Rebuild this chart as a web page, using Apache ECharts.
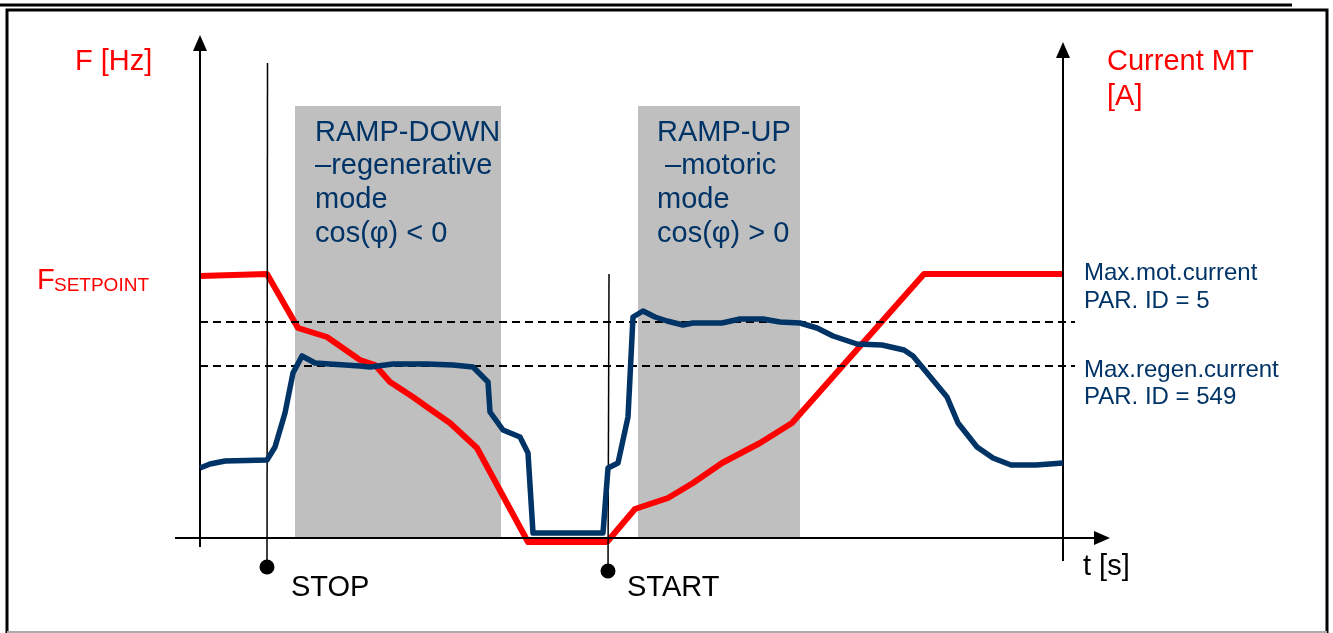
<!DOCTYPE html>
<html lang="en">
<head>
<meta charset="utf-8">
<title>Ramp-down / ramp-up</title>
<script src="https://cdn.jsdelivr.net/npm/echarts@6/dist/echarts.min.js"></script>
<style>
  html, body { margin: 0; padding: 0; background: #fff; }
  #chart { width: 1333px; height: 633px; }
</style>
</head>
<body>
<div id="chart"></div>

<script>
// time axis (arbitrary units) and values
var freqT = [0, 6.7, 9.8, 12.7, 16.0, 17.5, 19.0, 21.3, 22.7, 25.0, 27.7, 32.8, 40.7, 43.5, 46.8, 49.3, 52.2, 56.0, 59.2, 72.4, 86.3];
var freqV = [26.2, 26.4, 21.0, 20.1, 17.8, 17.3, 15.6, 14.1, 13.1, 11.5, 9.0, -0.4, -0.4, 2.9, 4.0, 5.5, 7.5, 9.5, 11.5, 26.4, 26.4];

var currT = [0, 1.0, 2.5, 6.7, 7.5, 8.5, 9.3, 10.2, 11.5, 16.0, 17.0, 19.3, 22.7, 25.3, 27.3, 28.8, 29.0, 30.3, 32.0, 32.8, 33.3,
             40.3, 40.8, 41.8, 42.8, 43.3, 44.3, 45.5, 46.7, 48.3, 49.3, 52.2, 54.0, 56.3, 58.0, 60.0, 61.7, 63.3, 65.7, 68.2,
             70.4, 71.3, 74.7, 75.8, 77.7, 79.3, 81.1, 83.6, 86.3];
var currV = [7.0, 7.4, 7.7, 7.8, 9.1, 12.5, 16.5, 18.2, 17.5, 17.2, 17.1, 17.4, 17.4, 17.3, 17.1, 15.6, 12.6, 10.8, 10.1, 8.5, 0.5,
             0.5, 7.0, 7.5, 12.1, 22.1, 22.7, 22.1, 21.7, 21.3, 21.5, 21.5, 21.9, 21.9, 21.6, 21.5, 21.0, 20.2, 19.4, 19.3,
             18.8, 18.2, 14.1, 11.5, 9.1, 8.0, 7.3, 7.3, 7.5];

var limitLevels = [21.6, 17.2];           // max motoric / max regenerative current
var eventT = { stop: 6.7, start: 40.8 };
var zones = [[9.5, 30.1], [43.8, 60.0]];  // ramp-down, ramp-up
var zoneTop = 43.2;

var RED = '#ff0000';
var BLUE = '#003366';
var FONT = "'Liberation Sans', Arial, sans-serif";

function pairs(xs, ys) {
  return xs.map(function (x, i) { return [x, ys[i]]; });
}

function seg(a, b) {
  return [{ coord: a }, { coord: b }];
}

function txt(x, y, text, size, color) {
  return {
    type: 'text', x: x, y: y, z: 100, silent: true,
    style: { text: text, fill: color, font: size + 'px ' + FONT, textVerticalAlign: 'middle' }
  };
}

var chart = echarts.init(document.getElementById('chart'));

var option = {
  animation: false,
  grid: { left: 0, right: 0, top: 0, bottom: 0, containLabel: false },
  xAxis: { type: 'value', min: -20, max: 113.3, show: false },
  yAxis: { type: 'value', min: -9.5, max: 53.8, show: false },
  graphic: [
    { type: 'line', silent: true, shape: { x1: 0, y1: 5, x2: 1292, y2: 5 }, style: { stroke: '#000', lineWidth: 3 } },
    { type: 'polyline', silent: true, shape: { points: [[7, 633], [7, 10], [1327, 10], [1327, 633]] },
      style: { stroke: '#000', lineWidth: 3, fill: null } },
    { type: 'line', silent: true, shape: { x1: 7, y1: 632, x2: 1327, y2: 632 }, style: { stroke: '#aaaaaa', lineWidth: 2 } },

    txt(75, 62, 'F [Hz]', 29, RED),
    txt(1107, 62, 'Current MT', 29, RED),
    txt(1107, 97, '[A]', 29, RED),
    txt(37, 281, 'F', 29, RED),
    txt(54, 286, 'SETPOINT', 19, RED),

    txt(315, 133, 'RAMP-DOWN', 29, BLUE),
    txt(315, 166, '\u2013regenerative', 29, BLUE),
    txt(315, 200, 'mode', 29, BLUE),
    txt(315, 234, 'cos(\u03c6) < 0', 29, BLUE),

    txt(657, 133, 'RAMP-UP', 29, BLUE),
    txt(657, 166, ' \u2013motoric', 29, BLUE),
    txt(657, 200, 'mode', 29, BLUE),
    txt(657, 234, 'cos(\u03c6) > 0', 29, BLUE),

    txt(1084, 273, 'Max.mot.current', 24, BLUE),
    txt(1084, 301, 'PAR. ID = 5', 24, BLUE),
    txt(1084, 370, 'Max.regen.current', 24, BLUE),
    txt(1084, 397, 'PAR. ID = 549', 24, BLUE),

    txt(291, 588, 'STOP', 29, '#000'),
    txt(627, 588, 'START', 29, '#000'),
    txt(1083, 567, 't [s]', 29, '#000')
  ],
  series: [
    {
      name: 'zones', type: 'line', data: [], z: 1, silent: true,
      markArea: {
        silent: true,
        itemStyle: { color: '#bfbfbf' },
        data: zones.map(function (z) { return [{ coord: [z[0], zoneTop] }, { coord: [z[1], 0] }]; })
      }
    },
    {
      name: 'limits', type: 'line', data: [], z: 2, silent: true,
      markLine: {
        silent: true, symbol: ['none', 'none'], label: { show: false },
        lineStyle: { color: '#000', type: [8, 5], width: 2 },
        data: limitLevels.map(function (v) { return seg([0, v], [87.5, v]); })
      }
    },
    {
      name: 'axes', type: 'line', data: [], z: 3, silent: true,
      markLine: {
        silent: true, label: { show: false },
        symbol: ['none', 'triangle'], symbolSize: [14, 16],
        lineStyle: { color: '#000', type: 'solid', width: 2 },
        data: [
          seg([-2.5, 0], [90.2, 0]),
          seg([0, -0.9], [0, 49.5]),
          seg([86.3, -2.3], [86.3, 48.8])
        ]
      }
    },
    {
      name: 'events', type: 'line', data: [], z: 3, silent: true,
      markLine: {
        silent: true, label: { show: false },
        symbol: ['circle', 'none'], symbolSize: [15, 16],
        lineStyle: { color: '#000', type: 'solid', width: 1.5 },
        itemStyle: { color: '#000' },
        data: [
          seg([eventT.stop, -2.9], [eventT.stop + 0.05, 47.5]),
          seg([eventT.start, -3.3], [eventT.start + 0.1, 26.4])
        ]
      }
    },
    {
      name: 'F', type: 'line', z: 4, silent: true, showSymbol: false, symbol: 'none',
      lineStyle: { color: RED, width: 6, join: 'round' },
      data: pairs(freqT, freqV)
    },
    {
      name: 'Current MT', type: 'line', z: 5, silent: true, showSymbol: false, symbol: 'none',
      lineStyle: { color: BLUE, width: 5.5, join: 'round' },
      data: pairs(currT, currV)
    }
  ]
};

chart.setOption(option);
</script>
</body>
</html>
